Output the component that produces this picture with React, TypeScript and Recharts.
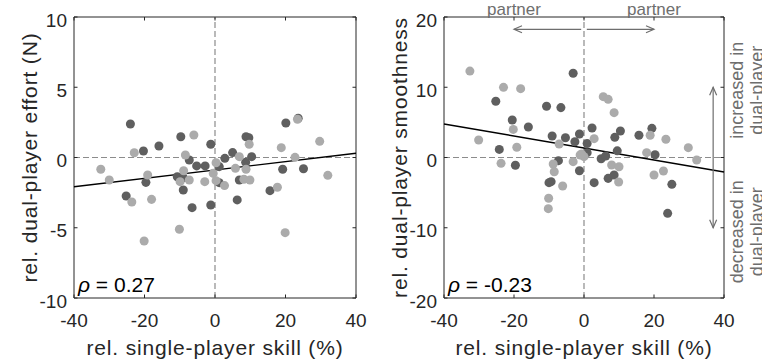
import React from 'react';
import { ScatterChart, Scatter, XAxis, YAxis, ReferenceLine, ReferenceArea, ReferenceDot } from 'recharts';

// ---------- data ----------
const skillTicks = [-40, -20, 0, 20, 40];
const effortTicks = [-10, -5, 0, 5, 10];
const smoothTicks = [-20, -10, 0, 10, 20];

const effortDark = [
  { x: -24.0, y: 2.38 }, { x: -9.7, y: 1.48 }, { x: -15.9, y: 0.82 }, { x: -20.3, y: 0.46 },
  { x: -1.2, y: 0.94 }, { x: 20.1, y: 2.46 }, { x: 23.6, y: 2.79 }, { x: 8.8, y: 1.48 },
  { x: 9.6, y: 1.41 }, { x: 5.0, y: 0.35 }, { x: -25.2, y: -2.74 }, { x: -19.6, y: -1.77 },
  { x: -9.0, y: -2.31 }, { x: -6.5, y: -3.57 }, { x: -1.2, y: -3.38 }, { x: -7.3, y: -0.18 },
  { x: -5.2, y: -0.6 }, { x: -2.8, y: -0.6 }, { x: -10.7, y: -1.37 }, { x: -9.0, y: -1.44 },
  { x: 1.2, y: -0.65 }, { x: 1.2, y: -1.79 }, { x: 2.8, y: -0.06 }, { x: 8.7, y: -0.34 },
  { x: 10.4, y: 0.06 }, { x: 6.9, y: -1.6 }, { x: 6.3, y: -3.02 }, { x: 15.6, y: -2.36 },
  { x: 19.2, y: -0.84 }, { x: 25.1, y: -0.8 },
];
const effortLight = [
  { x: -6.0, y: 1.6 }, { x: -22.9, y: 0.34 }, { x: 23.4, y: 2.72 }, { x: 29.7, y: 1.15 },
  { x: 9.7, y: 0.94 }, { x: 18.8, y: 0.7 }, { x: -32.4, y: -0.84 }, { x: -30.0, y: -1.6 },
  { x: -23.6, y: -3.17 }, { x: -19.1, y: -1.25 }, { x: -18.0, y: -2.98 }, { x: -20.1, y: -5.94 },
  { x: -10.1, y: -5.11 }, { x: -8.4, y: 0.18 }, { x: -8.9, y: -0.94 }, { x: -9.9, y: -1.72 },
  { x: -7.3, y: -1.6 }, { x: -2.9, y: -1.72 }, { x: -0.5, y: -1.13 }, { x: 0.3, y: -0.37 },
  { x: 0.3, y: -1.65 }, { x: 2.7, y: -2.0 }, { x: 6.9, y: 0.06 }, { x: 5.8, y: -0.77 },
  { x: 8.8, y: -0.84 }, { x: 8.2, y: -1.55 }, { x: 9.9, y: -1.6 }, { x: 17.7, y: -2.12 },
  { x: 22.7, y: 0.01 }, { x: 32.0, y: -1.27 }, { x: 19.9, y: -5.35 },
];
const effortFit = [{ x: -40, y: -2.08 }, { x: 40, y: 0.3 }];
const effortRho = '0.27';

const smoothDark = [
  { x: -3.1, y: 12.0 }, { x: -25.2, y: 8.0 }, { x: -10.7, y: 7.3 }, { x: -6.6, y: 7.1 },
  { x: -20.5, y: 5.34 }, { x: -15.9, y: 4.34 }, { x: -24.2, y: 1.15 }, { x: -9.1, y: 3.06 },
  { x: -5.3, y: 2.82 }, { x: -2.6, y: 2.25 }, { x: -1.3, y: 3.35 }, { x: 0.9, y: 2.0 },
  { x: 2.3, y: 4.2 }, { x: 8.8, y: 2.87 }, { x: 10.4, y: 3.77 }, { x: 9.5, y: 0.95 },
  { x: 15.7, y: 3.16 }, { x: 19.4, y: 4.15 }, { x: -19.6, y: -1.11 }, { x: -7.3, y: -0.45 },
  { x: -9.4, y: -3.44 }, { x: -10.0, y: -3.58 }, { x: -1.3, y: -1.88 }, { x: 0.9, y: 0.69 },
  { x: 2.9, y: -3.58 }, { x: 4.9, y: -0.17 }, { x: 6.2, y: 0.21 }, { x: 6.9, y: -2.97 },
  { x: 8.6, y: -2.49 }, { x: 20.3, y: 0.4 }, { x: 25.1, y: -3.82 }, { x: 23.9, y: -7.95 },
];
const smoothLight = [
  { x: -32.6, y: 12.3 }, { x: -23.0, y: 9.99 }, { x: -18.1, y: 9.8 }, { x: 5.5, y: 8.66 },
  { x: 6.9, y: 8.28 }, { x: 8.6, y: 6.38 }, { x: -20.2, y: 4.0 }, { x: -30.1, y: 2.49 },
  { x: -19.2, y: 1.45 }, { x: -7.1, y: 1.92 }, { x: 2.9, y: 2.68 }, { x: 18.9, y: 3.16 },
  { x: 23.4, y: 2.59 }, { x: 29.8, y: 1.4 }, { x: -23.7, y: -0.83 }, { x: -8.8, y: -0.93 },
  { x: -8.5, y: -2.02 }, { x: -6.1, y: -4.06 }, { x: -10.1, y: -5.81 }, { x: -10.2, y: -7.28 },
  { x: -3.1, y: -0.59 }, { x: -1.1, y: 0.36 }, { x: 0.0, y: 0.12 }, { x: -0.7, y: 0.5 },
  { x: 7.9, y: -1.07 }, { x: 10.0, y: -1.31 }, { x: 9.9, y: -3.49 }, { x: 17.9, y: 0.69 },
  { x: 20.0, y: -2.49 }, { x: 22.7, y: -1.92 }, { x: 32.2, y: -0.36 },
];
const smoothFit = [{ x: -40, y: 4.77 }, { x: 40, y: -2.06 }];
const smoothRho = '-0.23';

const xLabel = 'rel. single-player skill (%)';
const effortLabel = 'rel. dual-player effort (N)';
const smoothLabel = 'rel. dual-player smoothness';
const partnerText = 'partner';
const upText = ['increased in', 'dual-player'];
const downText = ['decreased in', 'dual-player'];

// annotation anchors (data coordinates)
const arrowLeft = [{ x: -0.8, y: 18.25 }, { x: -20, y: 18.25 }];
const arrowRight = [{ x: 0.8, y: 18.25 }, { x: 20, y: 18.25 }];
const arrowVert = [{ x: 36.9, y: 10 }, { x: 36.9, y: -10 }];

// ---------- style ----------
const FONT = '"Liberation Sans", Arial, Helvetica, sans-serif';
const TXT = '#262626';
const DARK = '#5f5f5f';
const LIGHT = '#ababab';
const ANNO = '#6e6e6e';
const TOP = 17;
const BOTTOM = 298;
const W = 381;
const H = 363;

const arrowShape = (both: boolean) => (p: any) => {
  const { x1, y1, x2, y2 } = p;
  const dx = x2 - x1;
  const dy = y2 - y1;
  const L = Math.hypot(dx, dy) || 1;
  const ux = dx / L;
  const uy = dy / L;
  const head = (tx: number, ty: number, vx: number, vy: number) =>
    `M${tx - 8 * vx - 3.5 * vy},${ty - 8 * vy + 3.5 * vx} L${tx},${ty} L${tx - 8 * vx + 3.5 * vy},${ty - 8 * vy - 3.5 * vx}`;
  return (
    <g>
      <line x1={x1} y1={y1} x2={x2} y2={y2} stroke={ANNO} strokeWidth={1.2} />
      <path d={head(x2, y2, ux, uy)} fill="none" stroke={ANNO} strokeWidth={1.2} />
      {both && <path d={head(x1, y1, -ux, -uy)} fill="none" stroke={ANNO} strokeWidth={1.2} />}
    </g>
  );
};

type PanelProps = {
  left: number;
  plotLeft: number;
  plotWidth: number;
  dark: { x: number; y: number }[];
  light: { x: number; y: number }[];
  fit: { x: number; y: number }[];
  yTicks: number[];
  yLabel: string;
  rho: string;
  annotate?: boolean;
};

function Panel({ left, plotLeft, plotWidth, dark, light, fit, yTicks, yLabel, rho, annotate }: PanelProps) {
  const yMin = yTicks[0];
  const yMax = yTicks[yTicks.length - 1];
  const plotRight = plotLeft + plotWidth;

  const xTick = (p: any) => (
    <g>
      <line x1={p.x} x2={p.x} y1={BOTTOM} y2={BOTTOM - 3.5} stroke={TXT} />
      <line x1={p.x} x2={p.x} y1={TOP} y2={TOP + 3.5} stroke={TXT} />
      <text x={p.x} y={BOTTOM + 29} textAnchor="middle" fontFamily={FONT} fontSize={19} fill={TXT}>
        {String(p.payload.value)}
      </text>
    </g>
  );
  const yTick = (p: any) => (
    <g>
      <line x1={plotLeft} x2={plotLeft + 3.5} y1={p.y} y2={p.y} stroke={TXT} />
      <line x1={plotRight} x2={plotRight - 3.5} y1={p.y} y2={p.y} stroke={TXT} />
      <text x={plotLeft - 7} y={p.y + 9.5} textAnchor="end" fontFamily={FONT} fontSize={19} fill={TXT}>
        {String(p.payload.value)}
      </text>
    </g>
  );
  const xLab = (p: any) => {
    const vb = p.viewBox || {};
    const cx = plotLeft + plotWidth / 2;
    return (
      <text x={cx} y={355} textAnchor="middle" fontFamily={FONT} fontSize={21} letterSpacing={0.85} fill={TXT}>
        {xLabel}
      </text>
    );
  };
  const yLab = () => {
    const bx = plotLeft - 37;
    const cy = (TOP + BOTTOM) / 2;
    return (
      <text x={bx} y={cy} transform={`rotate(-90 ${bx} ${cy})`} textAnchor="middle" fontFamily={FONT} fontSize={21} letterSpacing={0.85} fill={TXT}>
        {yLabel}
      </text>
    );
  };
  const rhoShape = (p: any) => (
    <text x={p.cx + 4} y={p.cy - 6} fontFamily={FONT} fontSize={21} fill="#000">
      <tspan fontStyle="italic">ρ</tspan> = {rho}
    </text>
  );
  const partnerShape = (p: any) => (
    <text x={p.cx} y={p.cy - 2} textAnchor="middle" fontFamily={FONT} fontSize={17} fill={ANNO}>
      {partnerText}
    </text>
  );
  const sideShape = (lines: string[], shift: number) => (p: any) => {
    const bx = p.cx + 19;
    const cy = p.cy + shift;
    return (
      <text x={bx} y={cy} transform={`rotate(-90 ${bx} ${cy})`} textAnchor="middle" fontFamily={FONT} fontSize={18} fill={ANNO}>
        <tspan x={bx} dy={0}>{lines[0]}</tspan>
        <tspan x={bx} dy={20}>{lines[1]}</tspan>
      </text>
    );
  };

  return (
    <div style={{ position: 'absolute', left, top: 0, width: W, height: H }}>
      <ScatterChart width={W} height={H} margin={{ top: TOP, right: W - plotRight, left: 0, bottom: 0 }}>
        <XAxis
          type="number"
          dataKey="x"
          domain={[-40, 40]}
          ticks={skillTicks}
          interval={0}
          height={H - BOTTOM}
          axisLine={false}
          tickLine={false}
          tick={xTick}
          label={xLab}
          allowDataOverflow
        />
        <YAxis
          type="number"
          dataKey="y"
          domain={[yMin, yMax]}
          ticks={yTicks}
          interval={0}
          width={plotLeft}
          axisLine={false}
          tickLine={false}
          tick={yTick}
          label={yLab}
          allowDataOverflow
        />
        <ReferenceLine x={0} stroke="#8c8c8c" strokeWidth={1.2} strokeDasharray="6 3" />
        <ReferenceLine y={0} stroke="#8c8c8c" strokeWidth={1.2} strokeDasharray="6 3" />
        <Scatter data={dark} fill={DARK} isAnimationActive={false} />
        <Scatter data={light} fill={LIGHT} isAnimationActive={false} />
        <ReferenceLine segment={fit} stroke="#000" strokeWidth={1.4} />
        <ReferenceArea x1={-40} x2={40} y1={yMin} y2={yMax} fill="none" stroke={TXT} strokeWidth={1} ifOverflow="visible" />
        <ReferenceDot x={-40} y={yMin} r={0} ifOverflow="visible" shape={rhoShape} />
        {annotate && <ReferenceLine segment={arrowLeft} shape={arrowShape(false)} />}
        {annotate && <ReferenceLine segment={arrowRight} shape={arrowShape(false)} />}
        {annotate && <ReferenceLine segment={arrowVert} shape={arrowShape(true)} />}
        {annotate && <ReferenceDot x={-20} y={yMax} r={0} ifOverflow="visible" shape={partnerShape} />}
        {annotate && <ReferenceDot x={20} y={yMax} r={0} ifOverflow="visible" shape={partnerShape} />}
        {annotate && <ReferenceDot x={40} y={10} r={0} ifOverflow="visible" shape={sideShape(upText, 3)} />}
        {annotate && <ReferenceDot x={40} y={-10} r={0} ifOverflow="visible" shape={sideShape(downText, 4)} />}
      </ScatterChart>
    </div>
  );
}

export default function App() {
  return (
    <div style={{ position: 'absolute', left: 0, top: 0, width: 762, height: 363, background: '#fff', overflow: 'hidden' }}>
      <Panel
        left={0}
        plotLeft={74}
        plotWidth={282}
        dark={effortDark}
        light={effortLight}
        fit={effortFit}
        yTicks={effortTicks}
        yLabel={effortLabel}
        rho={effortRho}
      />
      <Panel
        left={381}
        plotLeft={63}
        plotWidth={280}
        dark={smoothDark}
        light={smoothLight}
        fit={smoothFit}
        yTicks={smoothTicks}
        yLabel={smoothLabel}
        rho={smoothRho}
        annotate
      />
    </div>
  );
}
